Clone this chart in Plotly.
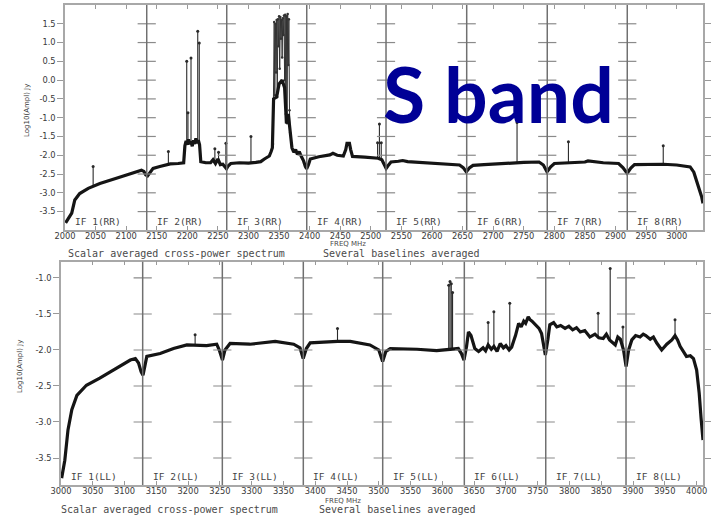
import plotly.graph_objects as go

W, H = 711, 515

# ---------------- Upper panel: RR polarization ----------------
rr_freq = [2001, 2011, 2016, 2024, 2038, 2046, 2057, 2084, 2112, 2125, 2129, 2132, 2135, 2138, 2144,
           2155, 2163, 2172, 2185, 2194, 2196, 2198, 2200, 2202, 2204, 2206, 2208, 2210,
           2212, 2214, 2216, 2218, 2220, 2222, 2230, 2238, 2242, 2246, 2250, 2254, 2258, 2261, 2264,
           2267, 2271,
           2285, 2300, 2312, 2320, 2326, 2330, 2334, 2337, 2339, 2341, 2346, 2350, 2355, 2359, 2362,
           2365, 2368, 2371, 2374, 2377, 2380, 2383, 2386, 2390, 2393, 2395, 2398, 2401,
           2415, 2433, 2438, 2445, 2455, 2459, 2461, 2465, 2467, 2470, 2490, 2505, 2512, 2518, 2522,
           2525, 2528, 2533,
           2545, 2552, 2560, 2580, 2600, 2625, 2645, 2651, 2656, 2661, 2667,
           2685, 2710, 2730, 2750, 2775, 2782, 2788, 2794, 2800,
           2825, 2850, 2855, 2880, 2905, 2912, 2919, 2925, 2931,
           2950, 2978, 3000, 3015, 3022, 3028, 3033, 3037, 3041, 3043]
rr_logamp = [-3.80, -3.54, -3.19, -3.02, -2.88, -2.83, -2.75, -2.61, -2.48, -2.40, -2.43, -2.52, -2.55, -2.47, -2.35,
             -2.30, -2.26, -2.23, -2.22, -2.20, -1.75, -1.62, -1.72, -1.58, -1.70, -1.63, -1.76, -1.60,
             -1.70, -1.55, -1.68, -1.60, -1.72, -2.17, -2.20, -2.20, -2.12, -2.22, -2.10, -2.25, -2.24, -2.32, -2.36,
             -2.28, -2.22,
             -2.20, -2.21, -2.19, -2.17, -2.10, -2.05, -2.02, -1.90, -1.80, -0.50, -0.45, -0.10, 0.00, -0.20, -1.15,
             -0.90, -1.41, -1.80, -1.92, -1.85, -1.98, -1.90, -2.02, -2.15, -2.30, -2.36, -2.25, -2.10,
             -2.04, -1.99, -1.95, -2.00, -2.02, -1.85, -1.68, -1.68, -1.85, -2.03, -2.05, -2.06, -2.08, -2.12, -2.28,
             -2.35, -2.28, -2.18,
             -2.16, -2.14, -2.17, -2.19, -2.21, -2.23, -2.26, -2.33, -2.44, -2.34, -2.27,
             -2.25, -2.22, -2.20, -2.19, -2.18, -2.26, -2.44, -2.31, -2.22,
             -2.21, -2.18, -2.15, -2.20, -2.22, -2.33, -2.48, -2.34, -2.25,
             -2.24, -2.24, -2.26, -2.28, -2.31, -2.45, -2.70, -2.92, -3.12, -3.28]

# dense interference band in IF 3
rr_rfi_freq = [2340, 2341, 2342, 2343, 2344, 2345, 2346, 2347, 2348, 2349, 2350, 2351, 2352, 2353, 2354,
               2355, 2356, 2357, 2358, 2359, 2360, 2361, 2362, 2363, 2364, 2365, 2366, 2367, 2368]
rr_rfi_logamp = [-1.70, -0.50, 1.55, -0.40, 1.50, 0.20, 1.60, -0.45, 1.62, 0.90, 1.70, 0.30, 1.68, 1.10, 1.60,
                 0.60, 1.65, 1.20, 1.72, 0.00, 1.74, -0.90, 1.70, -1.15, 1.76, 0.40, 1.62, -0.80, -1.40]

# narrow spectral lines
rr_spike_freq = [2046, 2169, 2199, 2201, 2206, 2217, 2219.5, 2245, 2251, 2263, 2304, 2511, 2514, 2517, 2739, 2823, 2978]
rr_spike_base = [-2.83, -2.24, -1.62, -1.65, -1.63, -1.62, -1.62, -2.17, -2.12, -2.32, -2.21, -2.08, -2.07, -2.10, -2.19, -2.21, -2.24]
rr_spike_top = [-2.30, -1.90, 0.50, -0.87, 0.59, 1.30, 0.99, -1.83, -1.92, -1.68, -1.50, -1.67, -1.17, -1.67, -1.13, -1.64, -1.75]

rr_if_edges = [2133.6, 2264.4, 2395.2, 2524.8, 2656.7, 2788.4, 2919.2]
rr_if_names = ["IF 1(RR)", "IF 2(RR)", "IF 3(RR)", "IF 4(RR)", "IF 5(RR)", "IF 6(RR)", "IF 7(RR)", "IF 8(RR)"]
rr_xrange = [2000, 3043]
rr_yrange = [-3.99, 2.0]
rr_xticks = list(range(2000, 3001, 50))
rr_yticks = [1.5, 1.0, 0.5, 0.0, -0.5, -1.0, -1.5, -2.0, -2.5, -3.0, -3.5]

# ---------------- Lower panel: LL polarization ----------------
ll_freq = [3001, 3006, 3011, 3017, 3025, 3040, 3061, 3088, 3109, 3117, 3122, 3126, 3129, 3132, 3135,
           3156, 3177, 3198, 3229, 3245, 3249, 3254, 3258,
           3266, 3297, 3337, 3366, 3376, 3381, 3386,
           3392, 3435, 3455, 3486, 3500, 3506, 3511,
           3518, 3560, 3591, 3612, 3625, 3630, 3634, 3638,
           3641, 3645, 3651, 3657, 3664, 3668, 3672, 3677, 3681, 3686, 3691, 3696, 3700, 3705, 3709, 3712,
           3715, 3720, 3724, 3728, 3731, 3735, 3738, 3741, 3746, 3752,
           3756, 3762, 3766,
           3769, 3775, 3780, 3786, 3793, 3799, 3805, 3811, 3817, 3824, 3832, 3840, 3846, 3853, 3858, 3863,
           3868, 3872, 3876, 3880, 3885, 3889, 3893,
           3898, 3904, 3911, 3916, 3920, 3927, 3932, 3937, 3945, 3953, 3958, 3961, 3966, 3970, 3974, 3979,
           3984, 3990, 3995, 4000, 4004, 4007, 4010]
ll_logamp = [-3.78, -3.53, -3.11, -2.83, -2.63, -2.49, -2.39, -2.25, -2.14, -2.12, -2.18, -2.30, -2.35, -2.22, -2.09,
             -2.05, -1.98, -1.93, -1.94, -1.92, -2.00, -2.14, -2.00,
             -1.91, -1.92, -1.88, -1.92, -1.97, -2.12, -1.98,
             -1.90, -1.88, -1.88, -1.93, -2.00, -2.16, -2.02,
             -1.98, -1.99, -2.01, -1.99, -1.98, -2.05, -2.14, -1.95,
             -1.75, -1.80, -1.98, -2.02, -1.97, -2.01, -1.93, -1.99, -1.95, -2.02, -1.91, -1.97, -1.94, -2.00, -1.96, -1.88,
             -1.80, -1.63, -1.68, -1.60, -1.63, -1.54, -1.58, -1.60, -1.65, -1.70,
             -1.77, -2.07, -1.85,
             -1.65, -1.62, -1.68, -1.66, -1.70, -1.67, -1.72, -1.69, -1.75, -1.73, -1.82, -1.78, -1.83, -1.84, -1.78, -1.86,
             -1.90, -1.93, -1.82, -1.85, -2.00, -2.23, -2.00,
             -1.86, -1.80, -1.82, -1.78, -1.80, -1.85, -1.82, -1.90, -2.00, -1.92, -1.88, -1.86, -1.80, -1.86, -1.95, -2.02,
             -2.09, -2.08, -2.12, -2.28, -2.60, -2.95, -3.25]

ll_spike_freq = [3211, 3435, 3610, 3612, 3614, 3616, 3672, 3681, 3706, 3845, 3864, 3884, 3966]
ll_spike_base = [-1.94, -1.88, -1.99, -1.99, -1.99, -1.98, -1.95, -1.97, -1.96, -1.82, -1.88, -1.95, -1.80]
ll_spike_top = [-1.79, -1.70, -1.10, -1.05, -1.08, -1.20, -1.62, -1.47, -1.35, -1.49, -0.87, -1.68, -1.58]

ll_if_edges = [3128.5, 3253.8, 3381.2, 3506.1, 3634.5, 3762.6, 3888.9]
ll_if_names = ["IF 1(LL)", "IF 2(LL)", "IF 3(LL)", "IF 4(LL)", "IF 5(LL)", "IF 6(LL)", "IF 7(LL)", "IF 8(LL)"]
ll_xrange = [3000, 4010]
ll_yrange = [-3.875, -0.774]
ll_xticks = list(range(3000, 4001, 50))
ll_yticks = [-1.0, -1.5, -2.0, -2.5, -3.0, -3.5]

# ---------------- styling ----------------
TEXT = "#3a3a3a"
FRAME = "#a8a8a8"
EDGE = "#707070"
INK = "#151515"
TICKFONT = dict(family="DejaVu Sans", size=8.3, color=TEXT)


def spike_xy(freq, base, top):
    xs, ys = [], []
    for f, b, t in zip(freq, base, top):
        xs += [f, f, None]
        ys += [b, t, None]
    return xs, ys


fig = go.Figure()


def add_panel(xa, ya, freq, amp, sf, sb, st, edges, yticks, rfi=None):
    xs, ys = spike_xy(sf, sb, st)
    fig.add_trace(go.Scatter(x=xs, y=ys, mode="lines", xaxis=xa, yaxis=ya,
                             line=dict(color="#2a2a2a", width=1.1), hoverinfo="skip"))
    fig.add_trace(go.Scatter(x=sf, y=st, mode="markers", xaxis=xa, yaxis=ya,
                             marker=dict(color="#2a2a2a", size=3), hoverinfo="skip"))
    if rfi is not None:
        fig.add_trace(go.Scatter(x=rfi[0], y=rfi[1], mode="lines+markers", xaxis=xa, yaxis=ya,
                                 line=dict(color="#333333", width=1.0),
                                 marker=dict(color="#333333", size=2.5), hoverinfo="skip"))
    fig.add_trace(go.Scatter(x=freq, y=amp, mode="lines", xaxis=xa, yaxis=ya,
                             line=dict(color=INK, width=3.2), hoverinfo="skip"))
    # horizontal tick crossings on each IF separator
    cx, cy = [], []
    for e in edges:
        for t in yticks:
            cx.append(e)
            cy.append(t)
    fig.add_trace(go.Scatter(x=cx, y=cy, mode="markers", xaxis=xa, yaxis=ya,
                             marker=dict(symbol="line-ew", size=13,
                                         line=dict(color="#8a8a8a", width=1.2)),
                             hoverinfo="skip"))
    for e in edges:
        fig.add_shape(type="line", xref=xa, yref=ya + " domain", x0=e, x1=e, y0=0, y1=1,
                      line=dict(color=EDGE, width=1.5))


add_panel("x", "y", rr_freq, rr_logamp, rr_spike_freq, rr_spike_base, rr_spike_top,
          rr_if_edges, rr_yticks, rfi=(rr_rfi_freq, rr_rfi_logamp))
add_panel("x2", "y2", ll_freq, ll_logamp, ll_spike_freq, ll_spike_base, ll_spike_top,
          ll_if_edges, ll_yticks)


def xaxis_style(dom, rng, ticks, anchor):
    return dict(domain=dom, range=rng, tickvals=ticks, ticktext=[str(t) for t in ticks],
                tickangle=0, ticks="inside", ticklen=4, tickcolor="#999999", tickwidth=1,
                ticklabelstandoff=-3,
                showline=True, linecolor=FRAME, linewidth=1.5, mirror="ticks", automargin=False,
                showgrid=False, zeroline=False, tickfont=TICKFONT, anchor=anchor, fixedrange=True)


def yaxis_style(dom, rng, ticks, anchor):
    return dict(domain=dom, range=rng, tickvals=ticks, ticktext=["%.1f" % t for t in ticks],
                ticks="outside", ticklen=6, tickcolor="#999999", tickwidth=1.2,
                showline=True, linecolor=FRAME, linewidth=1.5, mirror="ticks", automargin=False,
                showgrid=False, zeroline=False, tickfont=TICKFONT, anchor=anchor, fixedrange=True)


fig.update_layout(
    width=W, height=H,
    margin=dict(l=0, r=0, t=0, b=0, autoexpand=False),
    paper_bgcolor="white", plot_bgcolor="white",
    showlegend=False,
    xaxis=xaxis_style([65 / W, 703 / W], rr_xrange, rr_xticks, "y"),
    yaxis=yaxis_style([1 - 230 / H, 1 - 5 / H], rr_yrange, rr_yticks, "x"),
    xaxis2=xaxis_style([61 / W, 703 / W], ll_xrange, ll_xticks, "y2"),
    yaxis2=yaxis_style([1 - 485 / H, 1 - 261.7 / H], ll_yrange, ll_yticks, "x2"),
)

ann = []
# IF labels along the bottom of each sub-band
for names, edges, rng, xa, ya in [(rr_if_names, rr_if_edges, rr_xrange, "x", "y"),
                                  (ll_if_names, ll_if_edges, ll_xrange, "x2", "y2")]:
    starts = [rng[0]] + edges
    for name, s in zip(names, starts):
        ann.append(dict(x=s, y=0, xref=xa, yref=ya + " domain", text=name, showarrow=False,
                        xanchor="left", yanchor="bottom", xshift=8, yshift=1,
                        font=dict(family="DejaVu Sans Mono", size=9.5, color="#444444")))

# axis titles and captions
cap_font = dict(family="DejaVu Sans Mono", size=10, color="#4a4a4a")
for ycap, yfreq, ylab, xl, xfreq, x1, x2 in [(253, 244.3, 111, 27, 348, 67, 322),
                                            (509.5, 500.5, 367, 20, 343, 60, 318)]:
    ann.append(dict(x=xfreq / W, y=1 - yfreq / H, xref="paper", yref="paper", text="FREQ MHz",
                    showarrow=False, xanchor="center", yanchor="middle", borderpad=0,
                    font=dict(family="DejaVu Sans", size=7, color="#4a4a4a")))
    ann.append(dict(x=x1 / W, y=1 - ycap / H, xref="paper", yref="paper",
                    text="Scalar averaged cross-power spectrum", showarrow=False, borderpad=0,
                    xanchor="left", yanchor="middle", font=cap_font))
    ann.append(dict(x=x2 / W, y=1 - ycap / H, xref="paper", yref="paper",
                    text="Several baselines averaged", showarrow=False, borderpad=0,
                    xanchor="left", yanchor="middle", font=cap_font))
    ann.append(dict(x=xl / W, y=1 - ylab / H, xref="paper", yref="paper", text="Log10(Ampl) Jy",
                    showarrow=False, textangle=-90, xanchor="center", yanchor="middle",
                    font=dict(family="DejaVu Sans", size=7, color="#3a3a3a")))

ann.append(dict(x=498 / W, y=1 - 93 / H, xref="paper", yref="paper", text="<b>S band</b>",
                showarrow=False, xanchor="center", yanchor="middle",
                font=dict(family="Lato", size=77, color="#000096")))

fig.update_layout(annotations=ann)
fig.write_html("out.html")
